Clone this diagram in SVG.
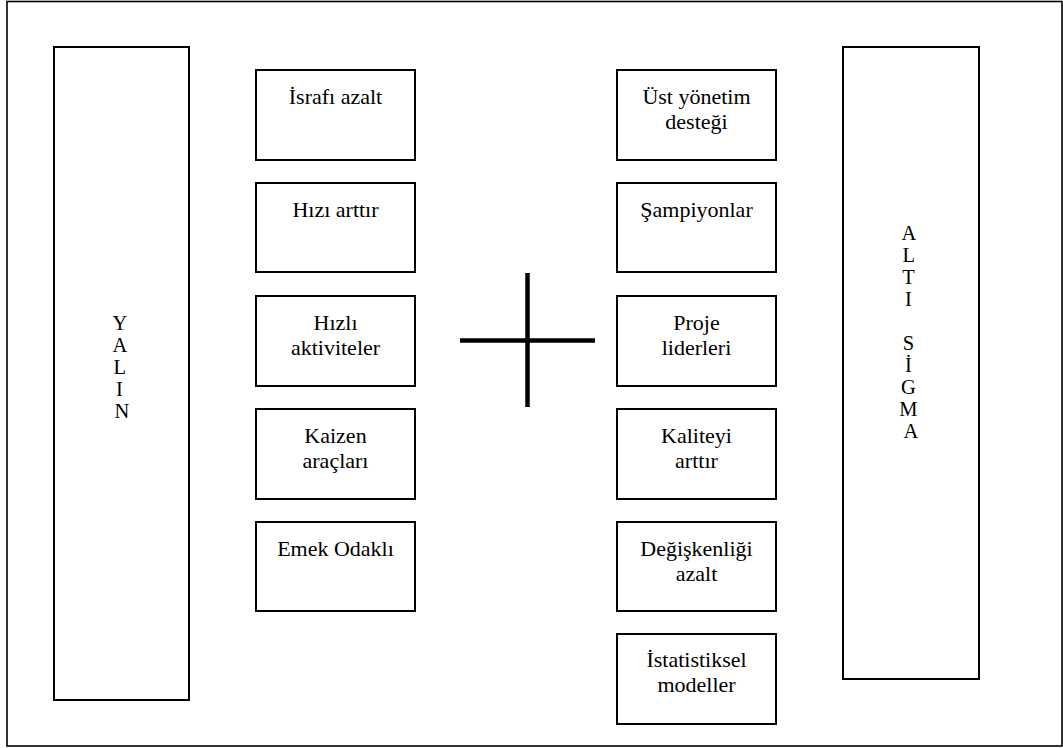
<svg xmlns="http://www.w3.org/2000/svg" width="1063" height="748" viewBox="0 0 1063 748">
  <style>
    .frame { fill: #ffffff; stroke: #000000; stroke-width: 1.6; }
    .box { fill: #ffffff; stroke: #000000; stroke-width: 2; }
    .lbl { font-family: "Liberation Serif", "Times New Roman", serif; font-size: 22px; fill: #000000; text-anchor: middle; }
    .vlbl { font-family: "Liberation Serif", "Times New Roman", serif; font-size: 20.5px; fill: #000000; text-anchor: middle; }
    .cross { stroke: #000000; stroke-width: 4.5; fill: none; }
  </style>

  <rect x="0" y="0" width="1063" height="748" fill="#ffffff"/>
  <!-- outer frame -->
  <rect class="frame" x="7" y="1.5" width="1055" height="744.5"/>

  <!-- left column: Yalın -->
  <g id="yalin">
    <rect class="box" x="54" y="47" width="135" height="653"/>
    <text class="vlbl">
      <tspan x="122" y="330">Y</tspan>
      <tspan x="122" y="352">A</tspan>
      <tspan x="122" y="374">L</tspan>
      <tspan x="122" y="396">I</tspan>
      <tspan x="122" y="418">N</tspan>
    </text>
  </g>

  <g id="israf">
    <rect class="box" x="256" y="70" width="159" height="90"/>
    <text class="lbl" x="335.5" y="104">İsrafı azalt</text>
  </g>
  <g id="hiz">
    <rect class="box" x="256" y="183" width="159" height="89"/>
    <text class="lbl" x="335.5" y="217">Hızı arttır</text>
  </g>
  <g id="hizli-aktiviteler">
    <rect class="box" x="256" y="296" width="159" height="90"/>
    <text class="lbl"><tspan x="335.5" y="330">Hızlı</tspan><tspan x="335.5" y="355">aktiviteler</tspan></text>
  </g>
  <g id="kaizen">
    <rect class="box" x="256" y="409" width="159" height="90"/>
    <text class="lbl"><tspan x="335.5" y="443">Kaizen</tspan><tspan x="335.5" y="468">araçları</tspan></text>
  </g>
  <g id="emek">
    <rect class="box" x="256" y="522" width="159" height="89"/>
    <text class="lbl" x="335.5" y="556">Emek Odaklı</text>
  </g>

  <!-- plus sign joining the two approaches -->
  <g id="connectors">
    <line class="cross" x1="527.5" y1="273" x2="527.5" y2="407"/>
    <line class="cross" x1="460" y1="340.5" x2="595" y2="340.5"/>
  </g>

  <!-- right column: Altı Sigma -->
  <g id="ust-yonetim">
    <rect class="box" x="617" y="70" width="159" height="90"/>
    <text class="lbl"><tspan x="696.5" y="104">Üst yönetim</tspan><tspan x="696.5" y="129">desteği</tspan></text>
  </g>
  <g id="sampiyonlar">
    <rect class="box" x="617" y="183" width="159" height="89"/>
    <text class="lbl" x="696.5" y="217">Şampiyonlar</text>
  </g>
  <g id="proje-liderleri">
    <rect class="box" x="617" y="296" width="159" height="90"/>
    <text class="lbl"><tspan x="696.5" y="330">Proje</tspan><tspan x="696.5" y="355">liderleri</tspan></text>
  </g>
  <g id="kalite">
    <rect class="box" x="617" y="409" width="159" height="90"/>
    <text class="lbl"><tspan x="696.5" y="443">Kaliteyi</tspan><tspan x="696.5" y="468">arttır</tspan></text>
  </g>
  <g id="degiskenlik">
    <rect class="box" x="617" y="522" width="159" height="89"/>
    <text class="lbl"><tspan x="696.5" y="556">Değişkenliği</tspan><tspan x="696.5" y="581">azalt</tspan></text>
  </g>
  <g id="istatistik">
    <rect class="box" x="617" y="634" width="159" height="90"/>
    <text class="lbl"><tspan x="696.5" y="667">İstatistiksel</tspan><tspan x="696.5" y="692">modeller</tspan></text>
  </g>

  <g id="alti-sigma">
    <rect class="box" x="843" y="47" width="136" height="632"/>
    <text class="vlbl">
      <tspan x="911" y="240">A</tspan>
      <tspan x="911" y="262">L</tspan>
      <tspan x="911" y="284">T</tspan>
      <tspan x="911" y="306">I</tspan>
      <tspan x="911" y="350">S</tspan>
      <tspan x="911" y="372">İ</tspan>
      <tspan x="911" y="394">G</tspan>
      <tspan x="911" y="416">M</tspan>
      <tspan x="911" y="438">A</tspan>
    </text>
  </g>
</svg>
